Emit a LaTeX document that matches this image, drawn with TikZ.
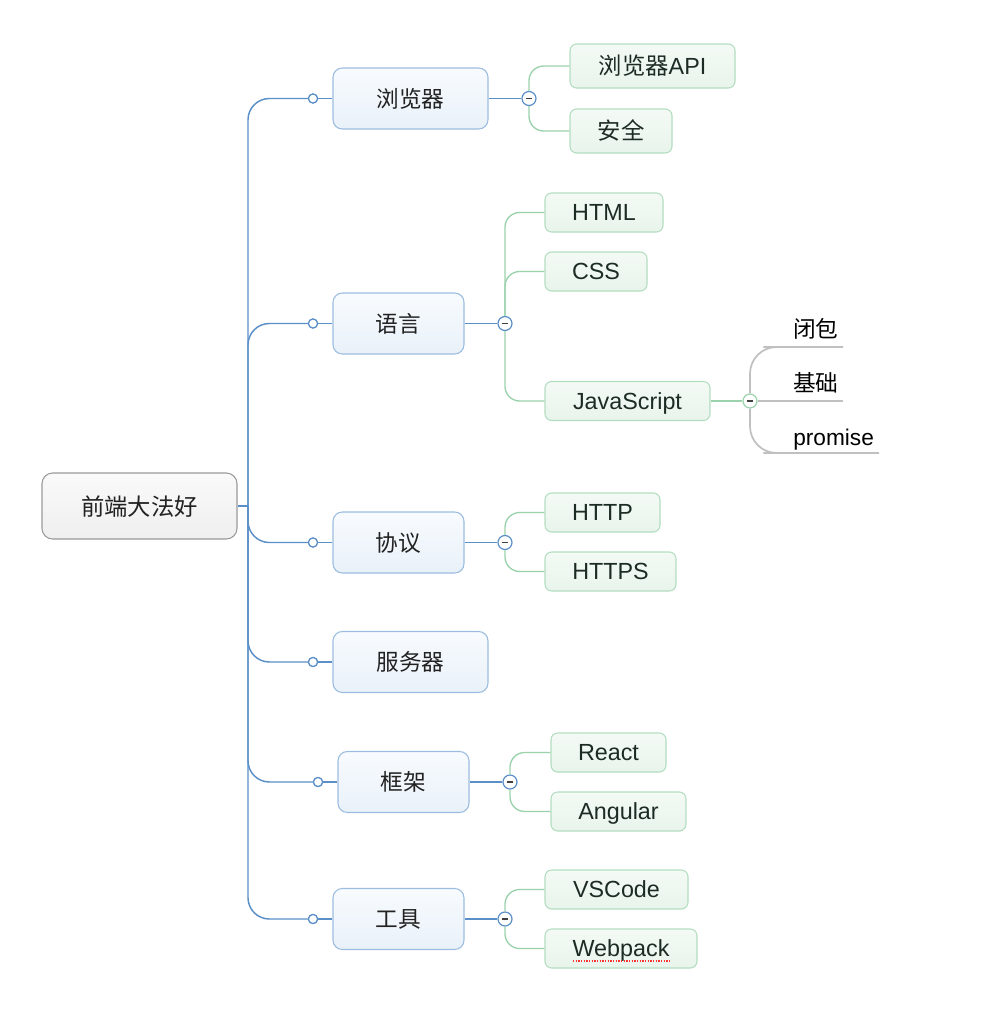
\documentclass[tikz,border=0pt]{standalone}
\usepackage{fontspec}
\setmainfont{Liberation Sans}
\newfontfamily\cjk{Noto Sans CJK SC}
\definecolor{bline}{HTML}{5B8FC7}
\definecolor{bborder}{HTML}{9DBDE0}
\definecolor{btop}{HTML}{F8FBFE}
\definecolor{bbot}{HTML}{E9F1F9}
\definecolor{rborder}{HTML}{9A9A9A}
\definecolor{rtop}{HTML}{FAFAFA}
\definecolor{rbot}{HTML}{EFEFEF}
\definecolor{gline}{HTML}{9AD2AC}
\definecolor{gborder}{HTML}{B3DDC0}
\definecolor{gtop}{HTML}{F4FAF5}
\definecolor{gbot}{HTML}{E8F4EB}
\definecolor{kline}{HTML}{C0C0C0}
\definecolor{txt}{HTML}{222222}
\definecolor{gtxt}{HTML}{1C2C24}
\tikzset{
  rootbox/.style={draw=rborder, line width=0.8pt, rounded corners=8pt, top color=rtop, bottom color=rbot,
    font=\fontsize{17.5}{20}\selectfont\cjk, text=txt, inner sep=0pt, minimum height=49.5pt, minimum width=146.25pt,
    text height=13.5pt, text depth=0pt},
  lonebox/.style={draw=bborder, line width=0.8pt, rounded corners=7pt, top color=btop, bottom color=bbot,
    font=\fontsize{17}{20}\selectfont\cjk, text=txt, inner sep=0pt, minimum height=45.75pt,
    text height=13pt, text depth=0pt},
  ltwobox/.style={draw=gborder, line width=0.8pt, rounded corners=5pt, top color=gtop, bottom color=gbot,
    font=\fontsize{17.5}{20}\selectfont, text=gtxt, inner sep=0pt, text height=12.4pt, text depth=0pt},
  leaftext/.style={font=\fontsize{17}{20}\selectfont, text=black, inner sep=0pt, anchor=base west},
  hollow/.style={circle, draw=bline, fill=white, line width=0.9pt, minimum size=6.8pt, inner sep=0pt},
  minusc/.style={circle, draw=#1, fill=white, line width=0.9pt, minimum size=10.5pt, inner sep=0pt,
    path picture={\draw[line width=0.9pt, black!75] ([xshift=-2.6pt]path picture bounding box.center) -- ([xshift=2.6pt]path picture bounding box.center);}},
  bconn/.style={draw=bline, line width=1.1pt},
  gconn/.style={draw=gline, line width=1pt, rounded corners=11pt},
  kconn/.style={draw=kline, line width=1.3pt, rounded corners=20pt},
}
\begin{document}
\begin{tikzpicture}[x=0.75pt,y=-0.75pt]
\useasboundingbox (0,0) rectangle (998,1014);

% root
\node[rootbox] (root) at (139.5,506) {前端大法好};
\coordinate (trunk) at (248,506);

% level 1
\node[lonebox, minimum width=116.25pt] (b) at (410.5,98.5) {浏览器};
\node[lonebox, minimum width=98.25pt] (y) at (398.5,323.5) {语言};
\node[lonebox, minimum width=98.25pt] (p) at (398.5,542.5) {协议};
\node[lonebox, minimum width=116.25pt] (s) at (410.5,662) {服务器};
\node[lonebox, minimum width=98.25pt] (f) at (403.5,782) {框架};
\node[lonebox, minimum width=98.25pt] (t) at (398.5,919) {工具};

\node[hollow] (bc) at (313,98.5) {};
\node[hollow] (yc) at (313,323.5) {};
\node[hollow] (pc) at (313,542.5) {};
\node[hollow] (sc) at (313,662) {};
\node[hollow] (fc) at (318,782) {};
\node[hollow] (tc) at (313,919) {};

% level 2
\node[ltwobox, minimum width=123.75pt, minimum height=33pt] (b1) at (652.5,66) {{\cjk 浏览器}API};
\node[ltwobox, minimum width=76.5pt, minimum height=33pt] (b2) at (621,131) {\cjk 安全};
\node[ltwobox, minimum width=88.5pt, minimum height=29.25pt] (y1) at (604,212.5) {HTML};
\node[ltwobox, minimum width=76.5pt, minimum height=29.25pt] (y2) at (596,271.5) {CSS};
\node[ltwobox, minimum width=123.75pt, minimum height=29.25pt] (y3) at (627.5,401) {JavaScript};
\node[ltwobox, minimum width=86.25pt, minimum height=29.25pt] (p1) at (602.5,512.5) {HTTP};
\node[ltwobox, minimum width=98.25pt, minimum height=29.25pt] (p2) at (610.5,571.5) {HTTPS};
\node[ltwobox, minimum width=86.25pt, minimum height=29.25pt] (f1) at (608.5,752.5) {React};
\node[ltwobox, minimum width=101.25pt, minimum height=29.25pt] (f2) at (618.5,811.5) {Angular};
\node[ltwobox, minimum width=107.25pt, minimum height=29.25pt] (t1) at (616.5,889.5) {VSCode};
\node[ltwobox, minimum width=114pt, minimum height=29.25pt] (t2) at (621,948.5) {Webpack};

% leaves
\node[leaftext] (k1) at (793,337) {\cjk 闭包};
\node[leaftext] (k2) at (793,391) {\cjk 基础};
\node[leaftext] (k3) at (793,445) {promise};
\coordinate (k1a) at (790,347); \coordinate (k1b) at (843,347);
\coordinate (k2a) at (790,401); \coordinate (k2b) at (843,401);
\coordinate (k3a) at (790,453); \coordinate (k3b) at (879,453);

% trunk connectors
\draw[bconn] (root.east) -- (trunk);
\foreach \c in {bc,yc,pc,sc,fc,tc}{
  \draw[bconn, rounded corners=16pt] (trunk) |- (\c.west);
}
\draw[bconn] (bc) -- (b);
\draw[bconn] (yc) -- (y);
\draw[bconn] (pc) -- (p);
\draw[bconn] (sc) -- (s);
\draw[bconn] (fc) -- (f);
\draw[bconn] (tc) -- (t);
\node[hollow] at (bc) {};
\node[hollow] at (yc) {};
\node[hollow] at (pc) {};
\node[hollow] at (sc) {};
\node[hollow] at (fc) {};
\node[hollow] at (tc) {};

% minus circles
\node[minusc=bline] (bm) at (529,98.5) {};
\node[minusc=bline] (ym) at (505,323.5) {};
\node[minusc=bline] (pm) at (505,542.5) {};
\node[minusc=bline] (fm) at (510,782) {};
\node[minusc=bline] (tm) at (505,919) {};
\node[minusc=gline] (jm) at (750,401) {};

\draw[bconn] (b) -- (bm);
\draw[bconn] (y) -- (ym);
\draw[bconn] (p) -- (pm);
\draw[bconn] (f) -- (fm);
\draw[bconn] (t) -- (tm);
\draw[gconn] (y3) -- (jm);

\draw[gconn] (bm.north) |- (b1.west);
\draw[gconn] (bm.south) |- (b2.west);
\draw[gconn] (ym.north) |- (y1.west);
\draw[gconn] (ym.north) |- (y2.west);
\draw[gconn] (ym.south) |- (y3.west);
\draw[gconn] (pm.north) |- (p1.west);
\draw[gconn] (pm.south) |- (p2.west);
\draw[gconn] (fm.north) |- (f1.west);
\draw[gconn] (fm.south) |- (f2.west);
\draw[gconn] (tm.north) |- (t1.west);
\draw[gconn] (tm.south) |- (t2.west);

\draw[kconn] (jm.north) |- (k1a) -- (k1b);
\draw[kconn] (jm.east) -- (k2a) -- (k2b);
\draw[kconn] (jm.south) |- (k3a) -- (k3b);

% spell-check underline
\draw[red!80, densely dotted, line width=1pt] (573,961) -- (670,961);
\end{tikzpicture}
\end{document}
